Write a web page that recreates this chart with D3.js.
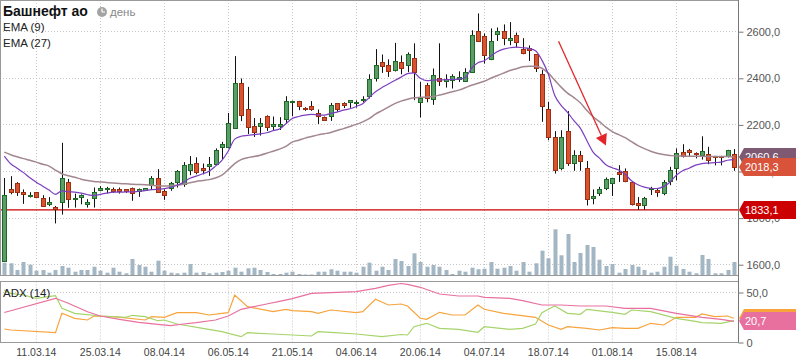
<!DOCTYPE html>
<html>
<head>
<meta charset="utf-8">
<title>Башнефт ао</title>
<style>
  body { margin: 0; background: #fff; }
  svg { display: block; font-family: "Liberation Sans", Arial, sans-serif; }
  .grid line { stroke: #c6c6c6; stroke-dasharray: 1,2; }
  .axis text { fill: #555; font-size: 11px; }
  .axis line { stroke: #777; }
  .axis path { display: none; }
  .frame { fill: none; stroke: #999; }
  .wick { stroke: #111; }
  .up { fill: #5a9d6b; stroke: #1d6a22; }
  .down { fill: #d8532f; stroke: #9c2e12; }
  .vol { fill: #a3b6c4; }
  .legend { fill: #222; font-size: 11.5px; }
  .dates text { fill: #444; font-size: 10.5px; text-anchor: middle; }
  .tag text { fill: #fff; font-size: 11px; }
</style>
</head>
<body>
<svg width="798" height="363"></svg>
<script src="https://cdnjs.cloudflare.com/ajax/libs/d3/7.8.5/d3.min.js"></script>
<script>
// daily candles, oldest first
var opens = [1614,1922,1948,1910,1893,1908,1886,1857,1845,1865,
  1952,1878,1889,1860,1885,1919,1923,1921,1921,1921,
  1925,1915,1919,1939,1968,1915,1929,1953,1943,2003,
  2036,2012,2022,2030,2101,2103,2185,2376,2268,2191,
  2194,2238,2195,2195,2222,2294,2300,2270,2278,2251,
  2231,2234,2290,2291,2297,2290,2305,2321,2397,2467,
  2453,2433,2467,2457,2483,2294,2367,2307,2401,2385,
  2390,2394,2388,2427,2600,2579,2481,2590,2603,2563,
  2583,2524,2526,2501,2415,2268,2145,2013,2171,2035,
  2068,2015,1886,1906,1929,1949,1995,2002,1953,1862,
  1856,1921,1918,1906,1959,2011,2082,2089,2079,2068,
  2071,2064,2064,2063,2071];
var highs = [1970,1978,1952,1921,1909,1910,1896,1888,1850,2121,
  1966,1903,1900,1879,1929,1935,1932,1929,1929,1922,
  1929,1925,1926,1978,2008,1921,1953,2004,2038,2064,
  2059,2032,2060,2097,2125,2249,2493,2397,2361,2227,
  2227,2239,2234,2231,2321,2302,2301,2274,2300,2264,
  2234,2292,2292,2295,2303,2303,2321,2415,2523,2500,
  2479,2550,2496,2509,2548,2382,2378,2440,2548,2415,
  2415,2428,2441,2604,2676,2590,2612,2616,2629,2639,
  2594,2570,2539,2502,2433,2297,2171,2175,2257,2089,
  2086,2043,1921,1932,1972,1969,2025,2011,1954,1888,
  1889,1932,1925,1961,2018,2097,2115,2095,2080,2149,
  2104,2065,2065,2091,2094];
var lows = [1612,1900,1893,1859,1886,1886,1846,1849,1775,1813,
  1842,1843,1857,1843,1843,1913,1905,1906,1903,1906,
  1872,1889,1917,1918,1909,1876,1915,1929,1932,1982,
  1986,1986,1979,2025,2049,2097,2181,2214,2159,2146,
  2152,2172,2172,2176,2202,2235,2261,2258,2258,2202,
  2217,2215,2254,2270,2271,2272,2295,2311,2384,2421,
  2404,2427,2415,2424,2304,2230,2295,2284,2365,2358,
  2354,2382,2382,2426,2554,2461,2476,2558,2540,2540,
  2530,2501,2472,2425,2211,2132,1989,2003,2022,2001,
  2001,1852,1857,1893,1918,1893,1953,1952,1852,1833.1,
  1834,1897,1889,1896,1939,1960,2058,2060,2054,2049,
  2029,2024,2024,2058,2001];
var closes = [1896,1908,1912,1902,1899,1889,1850,1865,1837,1969,
  1878,1886,1896,1869,1912,1926,1929,1915,1913,1913,
  1905,1921,1925,1968,1910,1897,1949,1999,2024,2029,
  1996,2005,2032,2088,2115,2208,2376,2242,2187,2168,
  2208,2189,2201,2201,2300,2300,2277,2264,2266,2238,
  2219,2285,2264,2284,2303,2298,2311,2394,2453,2449,
  2430,2471,2444,2500,2425,2315,2314,2410,2387,2394,
  2406,2403,2424,2582,2558,2496,2556,2603,2569,2570,
  2554,2507,2520,2442,2278,2144,2006,2145,2035,2068,
  2043,1878,1892,1921,1964,1968,1989,1958,1857,1856,
  1886,1926,1910,1951,2006,2079,2063,2082,2071,2086,
  2049,2058,2058,2090,2018.3];
var volumes = [123,117,50,130,103,43,50,23,50,90,
  73,33,50,50,83,43,23,73,33,17,
  160,100,83,33,143,43,23,17,23,110,
  23,30,17,23,30,43,73,33,67,73,
  50,30,10,10,23,33,10,5,5,33,
  33,57,43,33,33,23,83,123,43,83,
  50,160,140,90,217,130,83,100,83,50,
  10,43,33,73,57,63,130,63,73,90,
  43,130,33,117,243,167,457,197,410,130,
  220,300,280,153,90,110,23,60,100,83,
  50,23,33,83,183,93,60,33,17,200,
  160,17,17,50,130];

var ema9 = [2064,2031,2012,1993,1971,1952,1935,1918,1900,1915,
  1911,1909,1905,1898,1894,1900,1905,1909,1909,1910,
  1910,1913,1916,1920,1922,1924,1930,1939,1952,1969,
  1978,1988,1999,2021,2046,2086,2137,2149,2153,2156,
  2159,2164,2173,2180,2203,2225,2234,2240,2243,2241,
  2240,2247,2253,2261,2267,2277,2289,2315,2340,2358,
  2373,2388,2403,2418,2421,2398,2388,2390,2391,2392,
  2393,2394,2400,2441,2465,2473,2493,2512,2523,2529,
  2532,2529,2525,2516,2476,2416,2325,2282,2252,2216,
  2184,2132,2081,2055,2027,2014,2004,1986,1958,1941,
  1931,1926,1925,1933,1952,1982,2001,2012,2025,2032,
  2034,2036,2038,2046,2049];
var ema27 = [2081,2070,2061,2053,2046,2038,2029,2021,2004,1988,
  1980,1973,1965,1959,1955,1953,1951,1948,1946,1945,
  1943,1942,1941,1939,1937,1936,1937,1939,1943,1950,
  1955,1959,1963,1970,1982,2006,2032,2049,2057,2062,
  2068,2076,2085,2094,2106,2124,2132,2141,2148,2155,
  2160,2165,2174,2182,2191,2200,2211,2225,2244,2259,
  2274,2289,2300,2308,2314,2316,2318,2320,2326,2333,
  2340,2347,2357,2368,2377,2385,2398,2409,2420,2431,
  2439,2447,2450,2450,2441,2420,2390,2360,2334,2315,
  2293,2261,2233,2212,2188,2169,2156,2143,2126,2109,
  2096,2085,2076,2071,2067,2064,2064,2063.5,2063,2063,
  2062.5,2062,2062,2062,2060.6];

// ADX (14) panel, [candle index, value]
var adx = [[0,29.5],[8,43.7],[10,38.7],[13,30.3],[15,26],[18,22.7],[21,19.7],[24,17.7],
  [26,16.3],[28,18],[30,19.3],[33,22],[35,26],[37,32.7],[39,35.3],[41,38],[43,40.7],
  [45,43.3],[48,48.7],[51,49.3],[55,50.3],[58,53.7],[60,56.7],[62,58.5],[63,57.7],
  [65,54.7],[67,50.3],[68,48],[71,46],[74,46],[75,44.7],[79,43.7],[81,41.3],[84,37],
  [87,37],[90,36],[94,36],[97,33.7],[101,33.7],[105,28.7],[109,24.7],[112,22.7],[114,20.7]];
var plusDI = [[0,52],[1,48.7],[3,47],[5,43.7],[8,46.3],[9,33.7],[11,28.7],[15,26],[19,24.7],
  [20,26.7],[22,25.3],[24,21.3],[25,22],[27,18],[31,13.7],[34,10.3],[37,5.3],[38,9.3],
  [42,8],[48,6],[49,10.3],[51,9.7],[55,8],[59,5.3],[62,7.5],[63,7],[64,15.3],[66,18.7],
  [68,13.7],[71,12.7],[74,9.7],[75,15.3],[79,12.7],[81,13.7],[83,18],[84,29.3],[85,32.7],
  [86,36],[88,28.7],[90,27.7],[91,32.7],[95,29.7],[97,27.7],[98,32],[101,30.3],[105,23.7],
  [108,20.7],[109,19.3],[112,18.7],[114,21.3]];
var minusDI = [[0,13],[1,12],[8,9.3],[9,28.7],[11,23.7],[13,22],[14,26],[17,25.3],[22,22],
  [23,25.3],[25,24.7],[27,29.3],[30,29.3],[32,27],[34,28.7],[35,29.3],[36,47],[38,35.3],
  [42,30.3],[44,32.7],[45,31.3],[48,30.3],[49,28.7],[51,32],[55,29.3],[56,30.3],[58,42.7],
  [60,37],[62,38],[63,36],[65,23.7],[66,22.7],[68,29.7],[70,27],[72,27],[74,37],[75,32.7],
  [78,28.7],[83,24.7],[85,17],[87,12.7],[88,15.3],[91,13.7],[93,12],[95,14.3],[97,13.7],
  [99,13.7],[101,18.7],[103,17],[105,24.7],[108,24.7],[109,28],[111,25.3],[113,26],[114,23.7]];

var dateTicks = [5,15,25,35,45,55,65,75,85,95,105];
var dateLabels = ["11.03.14","25.03.14","08.04.14","06.05.14","21.05.14","04.06.14",
  "20.06.14","04.07.14","18.07.14","01.08.14","15.08.14"];
var priceTicks = [1600,1800,2000,2200,2400,2600];
var adxTicks = [0,50];
var supportLevel = 1833.1;
var trendArrow = [[86.6,2557],[94,2109]];

var svg = d3.select("svg");
var plotRight = 738.5, mainBottom = 275.5, adxTop = 281.5, adxBottom = 342.5;

var x = d3.scaleLinear().domain([0, 114]).range([4.3, 733.9]);
var y = d3.scaleLinear().domain([1600, 2600]).range([264.2, 31.2]);
var yVol = d3.scaleLinear().domain([0, 460]).range([275, 229]);
var yAdx = d3.scaleLinear().domain([0, 50]).range([342, 292]);

function fmt(v) { return d3.format(".1f")(v).replace(".", ","); }
function px(i) { return Math.round(x(i)) + 0.5; }

// grid
var grid = svg.append("g").attr("class", "grid");
grid.selectAll(".hp").data(priceTicks).enter().append("line")
    .attr("x1", 0).attr("x2", plotRight)
    .attr("y1", function(d) { return Math.round(y(d)) + 0.5; })
    .attr("y2", function(d) { return Math.round(y(d)) + 0.5; });
grid.selectAll(".ha").data([50]).enter().append("line")
    .attr("x1", 0).attr("x2", plotRight)
    .attr("y1", function(d) { return Math.round(yAdx(d)) + 0.5; })
    .attr("y2", function(d) { return Math.round(yAdx(d)) + 0.5; });
grid.selectAll(".vm").data(dateTicks).enter().append("line")
    .attr("x1", px).attr("x2", px).attr("y1", 0).attr("y2", mainBottom);
grid.selectAll(".va").data(dateTicks).enter().append("line")
    .attr("x1", px).attr("x2", px).attr("y1", adxTop).attr("y2", adxBottom);

// volume
svg.append("g").selectAll("rect").data(volumes).enter().append("rect")
    .attr("class", "vol")
    .attr("x", function(d, i) { return Math.round(x(i)) - 1.5; })
    .attr("width", 4)
    .attr("y", function(d) { return yVol(d); })
    .attr("height", function(d) { return yVol(0) - yVol(d); });

// support line
svg.append("line")
    .attr("x1", 0).attr("x2", plotRight)
    .attr("y1", y(supportLevel)).attr("y2", y(supportLevel))
    .attr("stroke", "#cc0000").attr("stroke-width", 1.3);

// candles
var candle = svg.append("g").selectAll("g").data(opens).enter().append("g");
candle.append("line").attr("class", "wick")
    .attr("x1", function(d, i) { return px(i); })
    .attr("x2", function(d, i) { return px(i); })
    .attr("y1", function(d, i) { return y(highs[i]); })
    .attr("y2", function(d, i) { return y(lows[i]); });
candle.append("rect")
    .attr("class", function(d, i) { return closes[i] >= opens[i] ? "up" : "down"; })
    .attr("x", function(d, i) { return px(i) - 2; })
    .attr("width", 4)
    .attr("y", function(d, i) { return Math.round(y(Math.max(opens[i], closes[i]))) + 0.5; })
    .attr("height", function(d, i) {
      var h = Math.round(y(Math.min(opens[i], closes[i]))) - Math.round(y(Math.max(opens[i], closes[i])));
      return Math.max(h, 1);
    });

// EMA lines
var emaLine = d3.line().curve(d3.curveMonotoneX)
    .x(function(d, i) { return x(i); })
    .y(function(d) { return y(d); });
svg.append("path").datum(ema27).attr("d", emaLine)
    .attr("fill", "none").attr("stroke", "#a3878f").attr("stroke-width", 1.5);
svg.append("path").datum(ema9).attr("d", emaLine)
    .attr("fill", "none").attr("stroke", "#7b3fbf").attr("stroke-width", 1.2);

// trend arrow
var a0 = [x(trendArrow[0][0]), y(trendArrow[0][1])],
    a1 = [x(trendArrow[1][0]), y(trendArrow[1][1])];
var dx = a1[0] - a0[0], dy = a1[1] - a0[1], len = Math.sqrt(dx * dx + dy * dy);
var ux = dx / len, uy = dy / len;
var base = [a1[0] - ux * 11, a1[1] - uy * 11];
svg.append("line")
    .attr("x1", a0[0]).attr("y1", a0[1]).attr("x2", base[0]).attr("y2", base[1])
    .attr("stroke", "#e3262b").attr("stroke-width", 1.3);
svg.append("path")
    .attr("d", "M" + a1[0] + "," + a1[1] +
      "L" + (base[0] - uy * 6) + "," + (base[1] + ux * 6) +
      "L" + (base[0] + uy * 6) + "," + (base[1] - ux * 6) + "Z")
    .attr("fill", "#e3262b");

// ADX lines
var adxLine = d3.line()
    .x(function(d) { return x(d[0]); })
    .y(function(d) { return yAdx(d[1]); });
svg.append("path").datum(minusDI).attr("d", adxLine)
    .attr("fill", "none").attr("stroke", "#f7a43d").attr("stroke-width", 1.2);
svg.append("path").datum(plusDI).attr("d", adxLine)
    .attr("fill", "none").attr("stroke", "#a6d46b").attr("stroke-width", 1.2);
svg.append("path").datum(adx).attr("d", adxLine)
    .attr("fill", "none").attr("stroke", "#e8709f").attr("stroke-width", 1.2);

// frames
svg.append("rect").attr("class", "frame")
    .attr("x", 0.5).attr("y", 0.5).attr("width", plotRight - 0.5).attr("height", mainBottom - 0.5);
svg.append("rect").attr("class", "frame")
    .attr("x", 0.5).attr("y", adxTop).attr("width", plotRight - 0.5).attr("height", adxBottom - adxTop);
svg.append("line")
    .attr("x1", plotRight).attr("x2", plotRight).attr("y1", 0).attr("y2", adxBottom)
    .attr("stroke", "#777");

// axes
svg.append("g").attr("class", "axis")
    .attr("transform", "translate(" + plotRight + ",0.5)")
    .call(d3.axisRight(y).tickValues(priceTicks).tickSize(5).tickPadding(3).tickFormat(fmt));
svg.append("g").attr("class", "axis")
    .attr("transform", "translate(" + plotRight + ",0.5)")
    .call(d3.axisRight(yAdx).tickValues(adxTicks).tickSize(5).tickPadding(3)
      .tickFormat(function(d) { return d === 0 ? "0" : fmt(d); }));

svg.append("g").attr("class", "dates").selectAll("text").data(dateTicks).enter().append("text")
    .attr("x", function(d) { return x(d); })
    .attr("y", 356)
    .text(function(d, i) { return dateLabels[i]; });

// value tags on the right
function tag(v, scale, color, label) {
  var c = Math.round(scale(v));
  var g = svg.append("g").attr("class", "tag");
  g.append("path")
    .attr("d", "M739," + c + "L744," + (c - 9) + "L796," + (c - 9) + "L796," + (c + 9) + "L744," + (c + 9) + "Z")
    .attr("fill", color);
  g.append("text").attr("x", 745).attr("y", c + 4).text(label);
}
tag(ema27[ema27.length - 1], y, "#7d5a72", fmt(ema27[ema27.length - 1]));
tag(closes[closes.length - 1], y, "#d9533a", fmt(closes[closes.length - 1]));
tag(supportLevel, y, "#cc0000", fmt(supportLevel));
tag(minusDI[minusDI.length - 1][1], yAdx, "#f7a43d", "");
tag(adx[adx.length - 1][1], yAdx, "#e8709f", fmt(adx[adx.length - 1][1]));

// titles
svg.append("text").attr("x", 3).attr("y", 16)
    .attr("font-size", "14px").attr("font-weight", "bold").attr("fill", "#111")
    .text("Башнефт ао");
svg.append("circle").attr("cx", 102).attr("cy", 12).attr("r", 5).attr("fill", "#a3a3a3");
svg.append("path").attr("d", "M102,12V8.5M102,12H105")
    .attr("stroke", "#fff").attr("stroke-width", 1.2).attr("fill", "none");
svg.append("text").attr("x", 110).attr("y", 16)
    .attr("font-size", "11.5px").attr("fill", "#888").text("день");
svg.append("text").attr("class", "legend").attr("x", 3).attr("y", 30.5).text("EMA (9)");
svg.append("text").attr("class", "legend").attr("x", 3).attr("y", 46.5).text("EMA (27)");
svg.append("text").attr("class", "legend").attr("x", 3).attr("y", 296.5).text("ADX (14)");
</script>
</body>
</html>
